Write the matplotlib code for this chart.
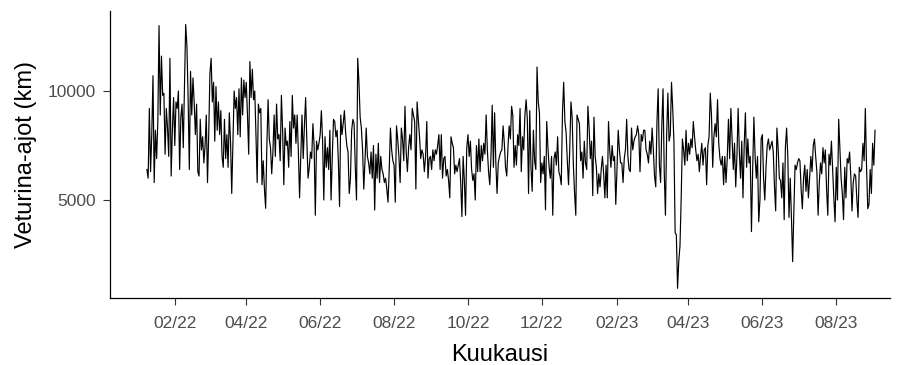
import numpy as np
import pandas as pd
import matplotlib
matplotlib.use('Agg')
import matplotlib.pyplot as plt
import matplotlib.dates as mdates

# paivittaiset veturina-ajot (km), luettu kuvasta, alkaen 9.1.2022
alkupaiva = '2022-01-09'
km = [
    # tammi-helmikuu 2022
    6400, 6000, 9200, 6300, 8000, 10700, 5800, 8200, 6900, 8600, 13000, 8900,
    11600, 9800, 9900, 7100, 9200, 8300, 7000, 11500, 6100, 8200, 9700, 7500,
    9500, 9200, 10000, 6400, 8800, 9400, 7400, 10200, 13050, 12100, 9700, 6400,
    10900, 8900, 10600, 9500, 8000, 9400, 6300, 6100, 8700, 7300, 7900, 6700,
    # maalis-huhtikuu 2022
    7500, 8900, 5800, 8000, 10800, 11500, 9500, 10400, 7700, 10200, 8200, 9500,
    8000, 9100, 7000, 6500, 8700, 6900, 8000, 6500, 9000, 7700, 5300, 7700,
    10000, 9200, 9700, 8000, 10100, 7900, 10600, 8900, 10500, 9700, 10400, 8900,
    7100, 11350, 9700, 11000, 9600, 10000, 8000, 5800, 9400, 9000, 9200, 5700,
    6800, 5500, 4620, 7500, 9600, 7800,
    # touko-kesakuu 2022
    7400, 6200, 7200, 8900, 7000, 9400, 7800, 8000, 6800, 9800, 8200, 5700,
    8300, 7500, 7700, 6500, 8600, 7000, 9800, 8300, 8900, 7600, 8900, 7200,
    5100, 7000, 8900, 6900, 8400, 9700, 7700, 6000, 6500, 7200, 6900, 8500,
    7500, 4300, 7700, 7300, 7600, 8000, 9100, 7700, 5000, 7900, 6500, 7400,
    6400, 8200, 5000, 7000, 8700,
    # kesa-elokuu 2022
    8600, 7900, 8200, 6800, 4700, 8900, 8000, 8500, 9100, 8100, 7500, 7200,
    5300, 6000, 8200, 8700, 8500, 6500, 5000, 11500, 10400, 8800, 8300, 7300,
    5500, 6800, 8300, 7000, 6700, 6200, 7200, 6000, 7500, 4540, 7100, 6000,
    7600, 5800, 7000, 6400, 6200, 5800, 6000, 5500, 4900, 6400, 8300, 7300,
    6800, 6600, 4900, 8400, 7800, 7000,
    # elo-syyskuu 2022
    5800, 8300, 7800, 6800, 9300, 7200, 6300, 7400, 8000, 7300, 9200, 8900,
    8600, 5500, 9500, 8700, 7900, 6900, 7300, 7100, 6300, 7000, 8600, 6000,
    6900, 7000, 6400, 7300, 6800, 7300, 7100, 7500, 8000, 6400, 8000, 6000,
    6900, 7000, 6100, 6400, 5900, 5100, 7900, 7600, 7400, 6200, 6600, 6300,
    6600, 6900, 5800, 4240, 7000,
    # loka-marraskuu 2022
    5900, 4300, 7400, 8000, 7000, 7700, 6400, 5900, 6200, 5000, 7500, 6300,
    7800, 6300, 7500, 6800, 7600, 7100, 8900, 7300, 6300, 5700, 7000, 9350,
    6500, 9000, 6700, 5300, 6700, 7000, 7200, 7300, 8400, 7600, 6500, 6100,
    7400, 8400, 7800, 9300, 8900, 6500, 7500, 6600, 8000, 7500, 9200, 6300,
    7900, 7300, 8900, 9600, 8700, 5300,
    # joulu-tammikuu
    9100, 6500, 5400, 8200, 6800, 6400, 11100, 9500, 9000, 5800, 6700, 6200,
    7000, 4550, 8600, 7400, 6500, 6000, 7000, 4300, 6900, 7200, 6600, 7900,
    6300, 6100, 5700, 9000, 10400, 8600, 8100, 6800, 5700, 7300, 9500, 8800,
    6600, 5300, 4300, 8900, 8700, 8500, 6800, 7200, 6000, 7700, 6700, 6400,
    9300, 8300, 6900, 7700, 5200,
    # helmi-maaliskuu 2023
    8800, 7000, 6500, 5300, 6200, 5600, 6400, 7000, 6200, 5100, 6600, 5100,
    8600, 7300, 6500, 7500, 6800, 7000, 4800, 6400, 8200, 7300, 6700, 6700,
    5800, 6900, 7300, 8700, 7000, 6400, 6300, 8300, 7300, 7700, 7900, 8000,
    8400, 8000, 6300, 8000, 7700, 8200, 8200, 7300, 7100, 6700, 7700, 7100,
    8300, 7300, 6100, 5600, 8600, 10100,
    # maalis-toukokuu 2023
    6600, 5800, 8400, 10100, 6300, 4300, 8000, 9900, 7700, 8000, 10400, 9200,
    7700, 3500, 3400, 950, 2200, 2900, 5100, 7800, 7300, 6600, 8200, 6800,
    7600, 7100, 7800, 7400, 8600, 7900, 7300, 6800, 7100, 6300, 7000, 7600,
    6600, 7300, 7400, 5700, 7500, 7900, 9900, 8900, 6500, 7900, 8500, 7900,
    9600, 7600, 6900, 6600, 7000, 5700,
    # touko-heinakuu 2023
    7000, 5800, 6900, 8700, 6900, 9200, 7800, 6400, 7600, 5600, 7000, 9200,
    7200, 6000, 7700, 5100, 7500, 9000, 6500, 7800, 6700, 7000, 3550, 6400,
    8800, 7000, 6000, 7000, 4000, 5000, 7800, 8000, 6000, 5000, 6500, 7500,
    7800, 7300, 7500, 7700, 7200, 5600, 4500, 8300, 7400, 6000, 5900, 5100,
    6700, 4100, 7400, 8300, 7000, 4200,
    # heina-elokuu 2023
    6000, 4200, 2170, 4500, 6600, 6400, 6700, 6900, 6800, 5500, 4600, 6000,
    6600, 5400, 6400, 5100, 6000, 7000, 6300, 7500, 7800, 7000, 6300, 4300,
    5800, 6700, 6200, 7400, 6700, 7300, 5500, 4300, 7100, 6600, 7700, 6400,
    5100, 4000, 6500, 5000, 8700, 7400, 6000, 5300, 4100, 6500, 5100, 6900,
    6700, 7200, 6100, 4500, 5800, 6200, 6100, 5000, 4200, 6500, 6300, 6400,
    7600, 6800, 9200, 6500, 4600, 4800, 6400, 5300, 7600, 6600, 8200,
]
pvm = pd.date_range(alkupaiva, periods=len(km), freq='D')

# x-akselin tikit: joka toisen kuukauden alku
tikit = pd.date_range('2022-02-01', '2023-08-01', freq='2MS')
y_tikit = [5000, 10000]

fig = plt.figure(figsize=(8.97, 3.65), dpi=100)
# paneelin paikka pikseleina (vasen 110, oikea 890, yla 11, ala 298)
ax = fig.add_axes([110/897, (365-298)/365, (890-110)/897, (298-11)/365])

ax.plot(pvm, km, color='black', linewidth=0.85)

# x-rajat: aloitus 147 px, loppu 875 px -> ~1.214 px/paiva
px_paiva = 1.214
xmin = pvm[0] - pd.Timedelta(days=(147-110)/px_paiva)
xmax = pvm[-1] + pd.Timedelta(days=(890-875)/px_paiva)
ax.set_xlim(xmin, xmax)

# y-rajat: 10000 -> 91 px, 5000 -> 200 px
km_px = 5000/(200-91)
ax.set_ylim(10000 - (298-91)*km_px, 10000 + (91-11)*km_px)

ax.set_xticks(tikit)
ax.xaxis.set_major_formatter(mdates.DateFormatter('%m/%y'))
ax.set_yticks(y_tikit)

fonttu = ['Liberation Sans', 'DejaVu Sans']
for lab in ax.get_xticklabels() + ax.get_yticklabels():
    lab.set_family(fonttu)
    lab.set_fontsize(12.5)
    lab.set_color('#4D4D4D')
ax.tick_params(axis='both', length=5, width=0.8, color='#333333', pad=5)
ax.tick_params(axis='x', pad=8)

ax.set_xlabel('Kuukausi', family=fonttu, fontsize=17, labelpad=9)
ax.set_ylabel('Veturina-ajot (km)', family=fonttu, fontsize=17, labelpad=8)

for s in ['top', 'right']:
    ax.spines[s].set_visible(False)
for s in ['left', 'bottom']:
    ax.spines[s].set_linewidth(0.9)
    ax.spines[s].set_color('black')

fig.savefig('out.png', dpi=100)
